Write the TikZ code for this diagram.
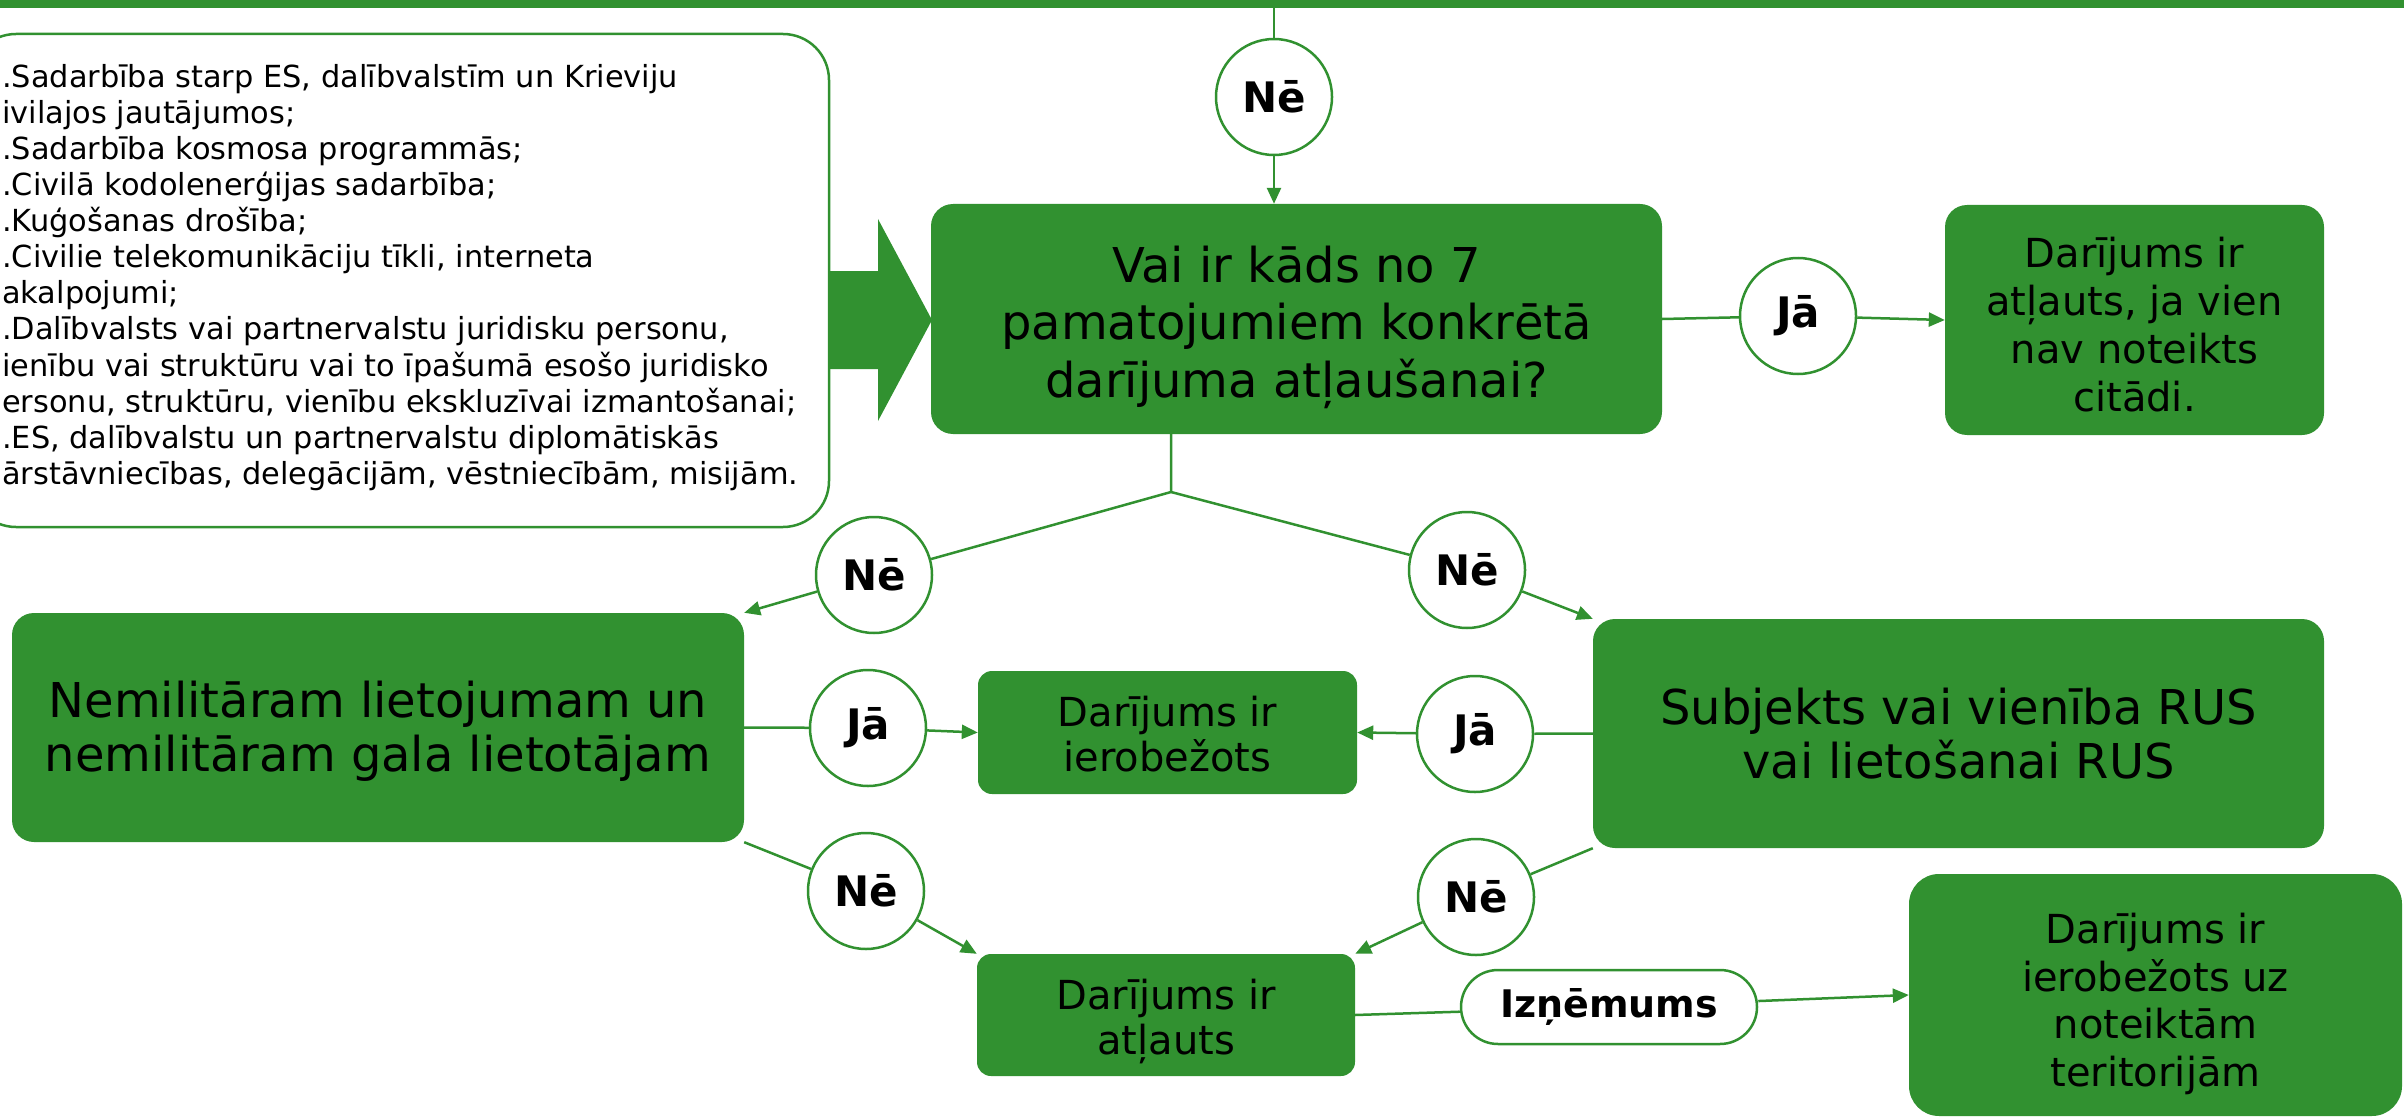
\documentclass[tikz,border=0pt]{standalone}
\usepackage{fontspec}
\setmainfont{DejaVu Sans}
\usetikzlibrary{arrows.meta}
\definecolor{G}{RGB}{49,145,48}
\tikzset{
 gbox/.style={fill=G, rounded corners=22pt, inner sep=0pt, align=center, text=black},
 dec/.style={circle, draw=G, line width=2.5pt, fill=white, minimum size=116pt, inner sep=0pt, font=\fontsize{42}{50}\selectfont\bfseries},
 conn/.style={draw=G, line width=2.5pt},
 arr/.style={conn, -{Triangle[length=16pt,width=14pt]}},
}
\begin{document}
\begin{tikzpicture}[x=1pt,y=-1pt]
\useasboundingbox (0,0) rectangle (2404,1118);
\fill[G] (0,0) rectangle (2404,8);

% reasons box
\node[draw=G, line width=2.5pt, rounded corners=46pt, minimum width=859pt, minimum height=493pt, inner sep=0pt] (reasons) at (399.5,280.5) {};
\node[anchor=north west, inner sep=0pt, align=left, font=\fontsize{30.4}{36.1}\selectfont] (rtext) at (2,64) {%
.Sadarbība starp ES, dalībvalstīm un Krieviju\\
ivilajos jautājumos;\\
.Sadarbība kosmosa programmās;\\
.Civilā kodolenerģijas sadarbība;\\
.Kuģošanas drošība;\\
.Civilie telekomunikāciju tīkli, interneta\\
akalpojumi;\\
.Dalībvalsts vai partnervalstu juridisku personu,\\
ienību vai struktūru vai to īpašumā esošo juridisko\\
ersonu, struktūru, vienību ekskluzīvai izmantošanai;\\
.ES, dalībvalstu un partnervalstu diplomātiskās\\
ārstāvniecības, delegācijām, vēstniecībām, misijām.};

% block arrow
\fill[G] (829,271) -- (878,271) -- (878,219) -- (932,320) -- (878,421) -- (878,369) -- (829,369) -- cycle;

% boxes
\node[gbox, minimum width=731pt, minimum height=230pt, font=\fontsize{48}{57.5}\selectfont] (main) at (1296.5,319) {\rule{0pt}{1.1em}Vai ir kāds no 7\\pamatojumiem konkrētā\\darījuma atļaušanai?};
\node[gbox, minimum width=379pt, minimum height=230pt, font=\fontsize{40}{48}\selectfont] (r1) at (2134.5,320) {\rule{0pt}{1.01em}Darījums ir\\atļauts, ja vien\\nav noteikts\\citādi.};
\node[gbox, minimum width=732pt, minimum height=229pt, font=\fontsize{48}{54}\selectfont] (lbox) at (378,727.5) {\rule{0pt}{0.93em}Nemilitāram lietojumam un\\nemilitāram gala lietotājam};
\node[gbox, rounded corners=14pt, minimum width=379pt, minimum height=123pt, font=\fontsize{40}{45}\selectfont] (mid) at (1167.5,732.5) {\rule{0pt}{0.86em}Darījums ir\\ierobežots};
\node[gbox, minimum width=731pt, minimum height=229pt, font=\fontsize{48}{54}\selectfont] (rus) at (1958.5,733.5) {Subjekts vai vienība RUS\\vai lietošanai RUS};
\node[gbox, rounded corners=14pt, minimum width=378pt, minimum height=122pt, font=\fontsize{40}{45}\selectfont] (bot) at (1166,1015) {\rule{0pt}{1.06em}Darījums ir\\atļauts};
\node[gbox, rounded corners=30pt, minimum width=493pt, minimum height=242pt, font=\fontsize{40}{47.5}\selectfont] (fr) at (2155.5,995) {\rule{0pt}{1.21em}Darījums ir\\ierobežots uz\\noteiktām\\teritorijām};

% decision circles
\node[dec] (cTop) at (1274,97) {Nē};
\node[dec] (cJa1) at (1798,316) {Jā};
\node[dec] (cNeL) at (874,575) {Nē};
\node[dec] (cNeR) at (1467,570) {Nē};
\node[dec] (cJaL) at (868,728) {Jā};
\node[dec] (cJaR) at (1475,734) {Jā};
\node[dec] (cNeLL) at (866,891) {Nē};
\node[dec] (cNeLR) at (1476,897) {Nē};
\node[draw=G, line width=2.5pt, fill=white, rounded corners=37pt, minimum width=296pt, minimum height=74pt, inner sep=0pt, font=\fontsize{38}{44}\selectfont\bfseries] (izn) at (1609,1007) {Izņēmums};

% connectors
\coordinate (topc) at (1274,8);
\coordinate (br) at (1171,492);
\draw[conn] (topc) -- (cTop);
\draw[arr] (cTop) -- (cTop |- main.north);
\draw[conn] (main.east) -- (cJa1);
\draw[arr] (cJa1) -- (r1.west);
\draw[conn] (br |- main.south) -- (br) -- (cNeL);
\draw[conn] (br) -- (cNeR);
\draw[arr] (cNeL) -- (lbox.north east);
\draw[arr] (cNeR) -- (rus.north west);
\draw[conn] (lbox.east) -- (cJaL);
\draw[arr] (cJaL) -- (mid.west);
\draw[conn] (rus.west) -- (cJaR);
\draw[arr] (cJaR) -- (mid.east);
\draw[conn] (lbox.south east) -- (cNeLL);
\draw[arr] (cNeLL) -- (bot.north west);
\draw[conn] (rus.south west) -- (cNeLR);
\draw[arr] (cNeLR) -- (bot.north east);
\draw[conn] (bot.east) -- (izn);
\draw[arr] (izn) -- (fr.west);
\end{tikzpicture}
\end{document}
